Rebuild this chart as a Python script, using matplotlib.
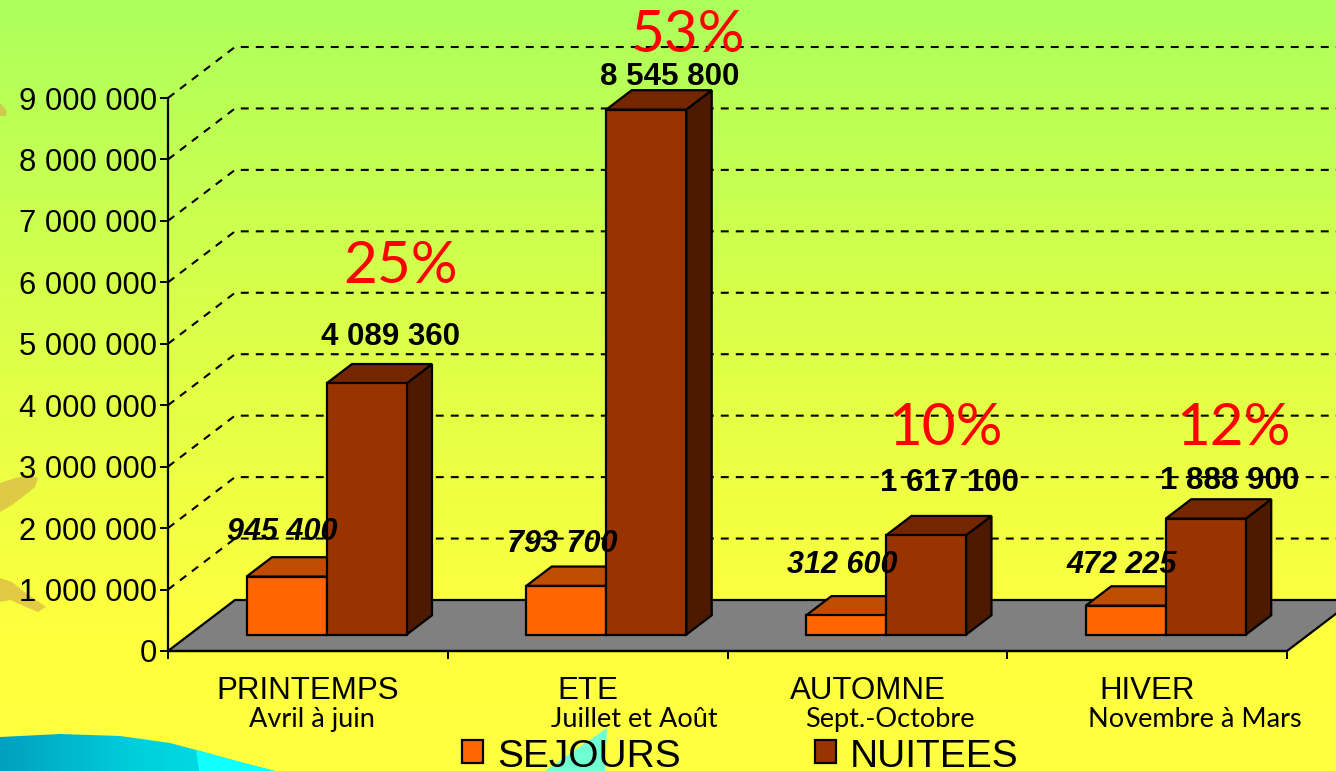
import matplotlib
matplotlib.use("Agg")
import matplotlib.pyplot as plt
import numpy as np
from matplotlib.patches import Polygon, Rectangle
from matplotlib.colors import LinearSegmentedColormap

# --- data ---
SEASONS = ["PRINTEMPS", "ETE", "AUTOMNE", "HIVER"]
PERIODS = ["Avril à juin", "Juillet et Août", "Sept.-Octobre", "Novembre à Mars"]
SEJOURS = [945400, 793700, 312600, 472225]
NUITEES = [4089360, 8545800, 1617100, 1888900]
SHARES = ["25%", "53%", "10%", "12%"]
Y_TICKS = [0, 1000000, 2000000, 3000000, 4000000, 5000000,
           6000000, 7000000, 8000000, 9000000]
LEGEND = ["SEJOURS", "NUITEES"]

# --- layout (pixels of the 1336x771 slide) ---
W, H = 1336, 771
PLOT_LEFT, PLOT_RIGHT = 168, 1287
PLOT_BOTTOM, PLOT_TOP = 651, 98
PX_PER_CAT = (PLOT_RIGHT - PLOT_LEFT) / len(SEASONS)
PX_PER_VAL = (PLOT_BOTTOM - PLOT_TOP) / Y_TICKS[-1]
DEPTH_DX = 67 / PX_PER_CAT
DEPTH_DY = 51 / PX_PER_VAL
BAR_W = 80 / PX_PER_CAT
PAIR_CENTER = 0.49
FRONT_DEPTH, BACK_DEPTH = 0.32, 0.70

# label placement, hand-set in the original slide
NUIT_LIFT = [0.89e6, 0.67e6, 0.99e6, 0.75e6]
SEJ_LIFT = [0.86e6, 0.82e6, 0.96e6, 0.80e6]
PCT_X = [0.83, 0.86, 0.78, 0.81]
PCT_LIFT = [1.90e6, 1.20e6, 1.73e6, 1.46e6]
SUB_SHIFT = [0.015, 0.166, 0.081, 0.171]

ORANGE = ("#FF6600", "#BF4C00", "#803300")
BROWN = ("#993300", "#732600", "#4D1A00")
DASH = (0, (3.8, 3.4))
SANS = ["Liberation Sans", "DejaVu Sans"]
HUMAN = ["Lato", "DejaVu Sans"]


def px2pt(px):
    return px * 72 / 100


def draw_bar(ax, x0, value, colors):
    front, top, side = colors
    fx = x0 + FRONT_DEPTH * DEPTH_DX
    fy = FRONT_DEPTH * DEPTH_DY
    bdx = (BACK_DEPTH - FRONT_DEPTH) * DEPTH_DX
    bdy = (BACK_DEPTH - FRONT_DEPTH) * DEPTH_DY
    kw = dict(ec="black", lw=1.6, joinstyle="miter", clip_on=False, zorder=3)
    ax.add_patch(Polygon([(fx + BAR_W, fy), (fx + BAR_W + bdx, fy + bdy),
                          (fx + BAR_W + bdx, fy + value + bdy), (fx + BAR_W, fy + value)],
                         fc=side, **kw))
    ax.add_patch(Polygon([(fx, fy + value), (fx + BAR_W, fy + value),
                          (fx + BAR_W + bdx, fy + value + bdy), (fx + bdx, fy + value + bdy)],
                         fc=top, **kw))
    ax.add_patch(Rectangle((fx, fy), BAR_W, value, fc=front, **kw))
    return fx + BAR_W / 2


fig = plt.figure(figsize=(W / 100, H / 100), dpi=100)

# background: green to yellow gradient plus the slide decorations
bg = fig.add_axes([0, 0, 1, 1], zorder=-10)
bg.set_xlim(0, W)
bg.set_ylim(H, 0)
bg.axis("off")
grad = LinearSegmentedColormap.from_list(
    "slide", [(0.0, "#ACFF5C"), (0.45, "#DDFF48"), (0.82, "#FFFF3E"), (1.0, "#FFFF40")])
bg.imshow(np.linspace(0, 1, 256).reshape(-1, 1), cmap=grad, aspect="auto",
          extent=(0, W, H, 0), zorder=0)

swoosh = Polygon([(0, 737), (60, 734), (120, 736), (170, 743), (200, 751),
                  (240, 762), (275, 771), (0, 771)], closed=True, fc="none", ec="none")
bg.add_patch(swoosh)
teal = LinearSegmentedColormap.from_list("teal", ["#00A0C0", "#00D0DC", "#00E4E8"])
im = bg.imshow(np.linspace(0, 1, 64).reshape(1, -1), cmap=teal, aspect="auto",
               extent=(0, 280, H, 730), zorder=1)
im.set_clip_path(swoosh)
bg.add_patch(Polygon([(196, 750), (240, 762), (275, 771), (199, 771)],
                     fc="#10FFFF", ec="none", zorder=2))
bg.add_patch(Polygon([(545, 771), (607, 728), (605, 771)], fc="#70FFD0", ec="none", zorder=2))
for blob in ([(0, 483), (15, 478), (30, 475), (38, 478), (35, 487), (24, 496), (12, 505), (0, 512)],
             [(0, 578), (12, 582), (22, 590), (36, 600), (46, 607), (38, 612), (24, 606), (10, 600), (0, 602)],
             [(0, 103), (7, 111), (6, 116), (0, 116)]):
    bg.add_patch(Polygon(blob, fc="#D9B448", ec="none", alpha=0.7, hatch="++",
                         zorder=2))

# main chart axes: x in categories, y in values
ax = fig.add_axes([PLOT_LEFT / W, (H - PLOT_BOTTOM) / H,
                   (PLOT_RIGHT - PLOT_LEFT) / W, (PLOT_BOTTOM - PLOT_TOP) / H])
ax.set_xlim(0, len(SEASONS))
ax.set_ylim(0, Y_TICKS[-1])
ax.patch.set_alpha(0)
for side in ("top", "right"):
    ax.spines[side].set_visible(False)
ax.spines["left"].set_linewidth(1.6)
ax.spines["bottom"].set_linewidth(1.6)
ax.spines["bottom"].set_zorder(4)

ax.set_yticks(Y_TICKS)
ax.set_yticklabels([f"{int(v):,}".replace(",", " ") for v in Y_TICKS],
                   fontsize=22.3, family=SANS)
ax.set_xticks(range(len(SEASONS) + 1))
ax.set_xticklabels([])
ax.tick_params(axis="y", direction="out", length=5.5, width=1.4, pad=2.5)
ax.tick_params(axis="x", direction="out", length=5.5, width=1.4)

# side and back wall gridlines
x_far = len(SEASONS) + 2 * DEPTH_DX
for v in Y_TICKS[1:]:
    ax.plot([0, DEPTH_DX, x_far], [v, v + DEPTH_DY, v + DEPTH_DY], color="black",
            lw=1.5, ls=DASH, clip_on=False, zorder=1)

# floor
ax.add_patch(Polygon([(0, 0), (len(SEASONS), 0), (len(SEASONS) + DEPTH_DX, DEPTH_DY),
                      (DEPTH_DX, DEPTH_DY)], fc="#808080", ec="black", lw=1.6,
                     clip_on=False, zorder=2))

for i, season in enumerate(SEASONS):
    sej_c = draw_bar(ax, i + PAIR_CENTER - BAR_W, SEJOURS[i], ORANGE)
    nui_c = draw_bar(ax, i + PAIR_CENTER, NUITEES[i], BROWN)

    ax.text(sej_c - 0.015, SEJOURS[i] + SEJ_LIFT[i], f"{SEJOURS[i]:,}".replace(",", " "),
            ha="center", va="baseline", fontsize=22, fontweight="bold", style="italic",
            family=SANS, zorder=5)
    ax.text(nui_c + 0.085, NUITEES[i] + NUIT_LIFT[i], f"{NUITEES[i]:,}".replace(",", " "),
            ha="center", va="baseline", fontsize=22.5, fontweight="bold",
            family=SANS, zorder=5)
    ax.text(i + PCT_X[i], NUITEES[i] + PCT_LIFT[i], SHARES[i], ha="center", va="baseline",
            fontsize=42, color="#FF0000", family=HUMAN, zorder=5)

    ax.annotate(season, xy=(i + 0.5, 0), xytext=(0, -px2pt(48)), textcoords="offset points",
                ha="center", va="baseline", fontsize=22.5, family=SANS)
    ax.annotate(PERIODS[i], xy=(i + 0.5 + SUB_SHIFT[i], 0), xytext=(0, -px2pt(76)),
                textcoords="offset points", ha="center", va="baseline", fontsize=19.5,
                family=HUMAN)

# legend along the bottom edge
for (sx, tx), name, colors in zip([(462, 497), (815, 850)], LEGEND, [ORANGE, BROWN]):
    fig.add_artist(Rectangle((sx / W, (H - 763) / H), 21 / W, 23 / H, fc=colors[0],
                             ec="black", lw=1.6, transform=fig.transFigure))
    fig.text(tx / W, (H - 767) / H, name, ha="left", va="baseline", fontsize=28, family=SANS)

fig.savefig("out.png", dpi=100)
